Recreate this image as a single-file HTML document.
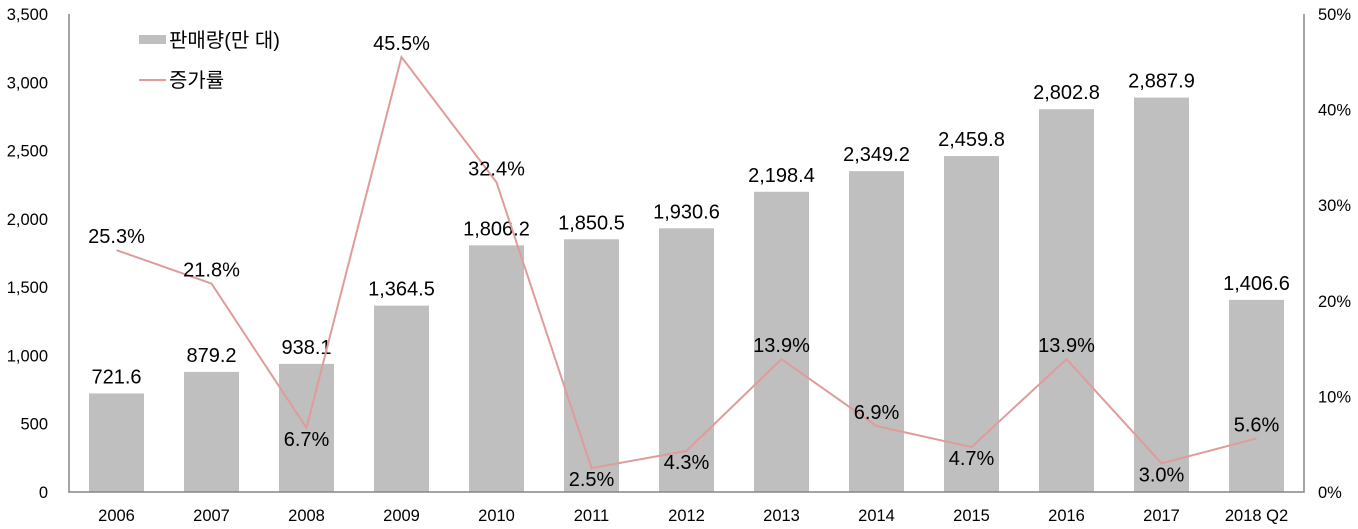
<!DOCTYPE html>
<html><head><meta charset="utf-8"><style>
body{margin:0;background:#fff}
text{font-family:"Liberation Sans","Noto Sans CJK KR",sans-serif;fill:#000}
</style></head><body>
<svg id="c" width="1358" height="524"></svg>
<script>
const categories=["2006","2007","2008","2009","2010","2011","2012","2013","2014","2015","2016","2017","2018 Q2"];
const salesValues=[721.6,879.2,938.1,1364.5,1806.2,1850.5,1930.6,2198.4,2349.2,2459.8,2802.8,2887.9,1406.6];
const growthValues=[25.3,21.8,6.7,45.5,32.4,2.5,4.3,13.9,6.9,4.7,13.9,3.0,5.6];
const leftTicks=[0,500,1000,1500,2000,2500,3000,3500];
const rightTicks=[0,10,20,30,40,50];
const growthLabelBelow=[0,0,1,0,0,1,1,0,0,1,0,1,0];
const NS="http://www.w3.org/2000/svg";
const svg=document.getElementById('c');
const L=69,R=1304,T=14,B=492;
const bw=(R-L)/categories.length;
const xc=i=>L+bw*(i+0.5);
const yl=v=>B-(v/3500)*(B-T);
const yr=v=>B-(v/50)*(B-T);
function mk(tag,a,txt){const e=document.createElementNS(NS,tag);for(const k in a)e.setAttribute(k,a[k]);if(txt!=null)e.textContent=txt;svg.appendChild(e);return e;}
const fmt=v=>v.toLocaleString('en-US',{minimumFractionDigits:1,maximumFractionDigits:1});
leftTicks.forEach(t=>{const e=mk('text',{x:48,y:yl(t)+6,'text-anchor':'end','font-size':16.5},t.toLocaleString('en-US'));

});
rightTicks.forEach(t=>{const e=mk('text',{x:1318,y:yr(t)+6,'font-size':16.5},t+'%');

});
salesValues.forEach((v,i)=>{const r=mk('rect',{x:xc(i)-27.5,y:yl(v),width:55,height:B-yl(v),fill:'#bfbfbf'});


const t=mk('text',{x:xc(i),y:yl(v)-10,'text-anchor':'middle','font-size':20},fmt(v));


const c=mk('text',{x:xc(i),y:521,'text-anchor':'middle','font-size':16.5},categories[i]);

});
const ax=mk('path',{d:`M${L},${T}V${B}H${R}V${T}`,fill:'none',stroke:'#868686','stroke-width':1.5});


const ln=mk('polyline',{points:growthValues.map((v,i)=>xc(i)+','+yr(v)).join(' '),fill:'none',stroke:'#e09b9b','stroke-width':2});


growthValues.forEach((v,i)=>{const y=growthLabelBelow[i]?yr(v)+18:yr(v)-7;
const t=mk('text',{x:xc(i),y:y,'text-anchor':'middle','font-size':20},v.toFixed(1)+'%');

});
const lr=mk('rect',{x:139,y:35,width:27,height:9,fill:'#bfbfbf'});


const lt=mk('text',{x:169,y:47,'font-size':20},'판매량(만 대)');


const ll=mk('line',{x1:139,x2:166,y1:80,y2:80,stroke:'#e09b9b','stroke-width':2});


const lt2=mk('text',{x:169,y:87,'font-size':20},'증가률');


</script>
</body></html>
